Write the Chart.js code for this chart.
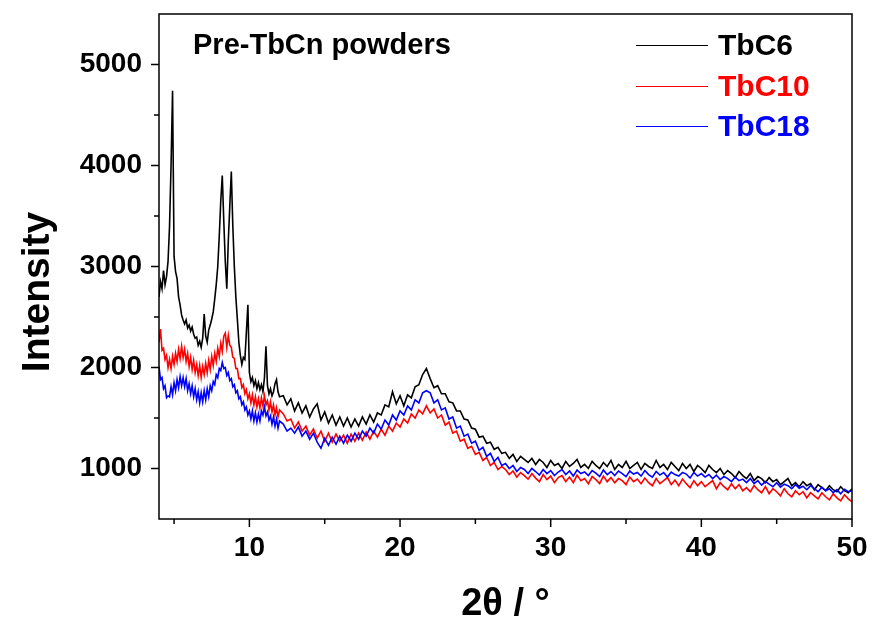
<!DOCTYPE html>
<html>
<head>
<meta charset="utf-8">
<script src="https://cdn.jsdelivr.net/npm/chart.js@4.4.1/dist/chart.umd.min.js"></script>
<style>
  html, body { margin: 0; padding: 0; background: #fff; }
  #wrap { width: 874px; height: 622px; }
</style>
</head>
<body>
<div id="wrap"><canvas id="mycanvas" width="874" height="622"></canvas></div>
<script>
// 2theta grid (deg)
const twoTheta = [
  4,4.1,4.2,4.3,4.4,4.5,4.6,4.7,4.8,4.9,
  5,5.1,5.2,5.3,5.4,5.5,5.6,5.7,5.8,5.9,
  6,6.1,6.2,6.3,6.4,6.5,6.6,6.7,6.8,6.9,
  7,7.1,7.2,7.3,7.4,7.5,7.6,7.7,7.8,7.9,
  8,8.1,8.2,8.3,8.4,8.5,8.6,8.7,8.8,8.9,
  9,9.1,9.2,9.3,9.4,9.5,9.6,9.7,9.8,9.9,
  10,10.1,10.2,10.3,10.4,10.5,10.6,10.7,10.8,10.9,
  11,11.1,11.2,11.3,11.4,11.5,11.6,11.7,11.8,11.9,
  12,
  12.25,12.5,12.75,
  13,13.25,13.5,13.75,14,14.25,14.5,14.75,
  15,15.25,15.5,15.75,16,16.25,16.5,16.75,
  17,17.25,17.5,17.75,18,18.25,18.5,18.75,
  19,19.25,19.5,19.75,20,20.25,20.5,20.75,
  21,21.25,21.5,21.75,22,22.25,22.5,22.75,
  23,23.25,23.5,23.75,24,24.25,24.5,24.75,
  25,25.25,25.5,25.75,26,26.25,26.5,26.75,
  27,27.25,27.5,27.75,28,28.25,28.5,28.75,
  29,29.25,29.5,29.75,30,30.25,30.5,30.75,
  31,31.25,31.5,31.75,32,32.25,32.5,32.75,
  33,33.25,33.5,33.75,34,34.25,34.5,34.75,
  35,35.25,35.5,35.75,36,36.25,36.5,36.75,
  37,37.25,37.5,37.75,38,38.25,38.5,38.75,
  39,39.25,39.5,39.75,40,40.25,40.5,40.75,
  41,41.25,41.5,41.75,42,42.25,42.5,42.75,
  43,43.25,43.5,43.75,44,44.25,44.5,44.75,
  45,45.25,45.5,45.75,46,46.25,46.5,46.75,
  47,47.25,47.5,47.75,48,48.25,48.5,48.75,
  49,49.25,49.5,49.75,50
];

const tbc6 = [
  2700,2850,2780,2960,2820,2900,3050,3400,4000,4740,
  3100,2950,2880,2700,2620,2520,2470,2430,2470,2390,
  2420,2360,2400,2330,2290,2300,2220,2260,2200,2290,
  2530,2310,2250,2370,2420,2480,2550,2680,2820,3000,
  3300,3650,3900,3450,3050,2780,3250,3600,3940,3400,
  3000,2700,2480,2250,2120,2030,2100,2080,2350,2620,
  1950,1860,1900,1820,1870,1790,1850,1780,1830,1760,
  1900,2210,1820,1740,1790,1720,1760,1840,1880,1760,
  1710,
  1720,1630,1690,
  1570,1650,1550,1620,1510,1590,1640,1480,
  1560,1450,1530,1430,1510,1420,1500,1410,
  1490,1420,1510,1440,1530,1460,1550,1530,
  1630,1610,1760,1640,1720,1620,1730,1700,
  1810,1830,1930,1990,1890,1800,1820,1740,
  1740,1660,1650,1570,1570,1490,1480,1400,
  1390,1310,1320,1250,1260,1190,1210,1150,
  1160,1100,1140,1070,1120,1090,1060,1100,
  1040,1090,1060,1010,1080,1030,1050,1000,
  1070,1020,1050,1090,1010,1040,1000,1070,
  1030,1000,1060,1020,1080,990,1040,1010,
  1070,1000,1030,1060,990,1050,1020,1000,
  1080,1010,1040,990,1060,1020,980,1050,
  1000,1040,970,1030,1000,960,1030,990,
  960,1000,940,980,950,910,970,930,
  900,950,880,920,900,860,910,870,
  890,840,870,900,830,860,820,870,
  830,850,790,840,810,780,830,790,
  770,820,780,760,800
];

const tbc10 = [
  2250,2380,2170,2190,2080,2120,2000,2080,1990,2110,
  2030,2140,2060,2180,2090,2210,2100,2180,2060,2140,
  2010,2100,1980,2070,1950,2030,1920,2020,1900,2010,
  1930,2040,1950,2070,1980,2110,2020,2140,2060,2190,
  2110,2240,2160,2310,2340,2200,2320,2220,2200,2100,
  2090,1990,1990,1890,1890,1800,1830,1740,1780,1690,
  1740,1650,1730,1630,1710,1610,1690,1600,1700,1620,
  1720,1630,1670,1580,1660,1560,1630,1530,1600,1510,
  1580,
  1540,1470,1490,
  1400,1460,1370,1420,1330,1390,1300,1370,
  1270,1350,1260,1340,1270,1330,1250,1340,
  1270,1350,1280,1360,1290,1370,1310,1390,
  1330,1420,1370,1450,1410,1490,1450,1540,
  1500,1580,1540,1620,1550,1590,1500,1530,
  1430,1460,1350,1370,1270,1290,1200,1220,
  1140,1160,1080,1110,1030,1060,990,1020,
  990,940,975,915,960,930,895,950,
  905,870,940,890,925,860,910,930,
  870,915,860,935,880,900,850,920,
  890,850,925,870,910,860,900,880,
  840,915,870,895,850,905,860,830,
  900,850,880,910,840,885,830,895,
  850,810,880,830,870,820,850,880,
  800,860,820,790,850,800,840,780,
  810,770,830,790,760,820,750,800,
  770,730,800,750,720,780,740,770,
  710,760,730,700,760,720,690,750,
  710,680,740,700,670
];

const tbc18 = [
  2010,1880,1900,1790,1820,1700,1720,1710,1810,1730,
  1850,1770,1880,1800,1910,1820,1900,1810,1890,1770,
  1840,1740,1820,1710,1790,1680,1760,1650,1750,1660,
  1770,1680,1790,1710,1820,1770,1860,1830,1930,1900,
  1990,1970,2050,1990,2000,1920,1950,1870,1890,1810,
  1830,1750,1770,1690,1710,1630,1660,1580,1610,1530,
  1570,1490,1570,1470,1550,1460,1540,1470,1570,1530,
  1610,1520,1560,1480,1520,1440,1510,1420,1490,1400,
  1470,
  1440,1370,1400,
  1350,1410,1320,1370,1290,1350,1260,1200,
  1300,1230,1310,1240,1320,1250,1330,1270,
  1350,1290,1370,1320,1400,1350,1440,1390,
  1480,1430,1530,1480,1570,1530,1620,1580,
  1680,1650,1750,1770,1750,1650,1680,1580,
  1600,1490,1510,1400,1420,1320,1340,1250,
  1270,1180,1210,1120,1150,1070,1110,1030,
  1050,1000,1030,970,1010,990,950,1000,
  970,935,990,950,980,930,965,990,
  940,975,925,985,950,965,930,980,
  955,920,985,940,970,930,975,950,
  920,975,945,960,925,980,940,915,
  970,935,960,915,965,940,925,960,
  945,905,960,925,950,915,940,900,
  935,890,920,900,870,915,880,895,
  860,900,850,880,835,870,845,820,
  860,815,845,830,800,840,805,825,
  790,830,800,770,815,780,800,760,
  790,750,795,770,780
];

const seriesNames = ['TbC6', 'TbC10', 'TbC18'];
const seriesColors = ['#000000', '#ff0000', '#0000ff'];
const xTicks = [10, 20, 30, 40, 50];
const xMinorTicks = [5, 15, 25, 35, 45];
const yTicks = [1000, 2000, 3000, 4000, 5000];
const yMinorTicks = [1500, 2500, 3500, 4500];
const panelLabel = 'Pre-TbCn powders';

function pairs(ys) {
  return twoTheta.map(function (t, i) { return { x: t, y: ys[i] }; });
}

const boldFont = "'Liberation Sans', Arial, sans-serif";

function noPad(s) {
  s.paddingLeft = 0; s.paddingRight = 0; s.paddingTop = 0; s.paddingBottom = 0;
}

// box, tick marks, axis titles, label and legend drawn by hand
const decor = {
  id: 'decor',
  afterDraw(chart) {
    const ctx = chart.ctx;
    const a = chart.chartArea;
    const xs = chart.scales.x, ys = chart.scales.y;
    ctx.save();
    ctx.strokeStyle = '#000';
    ctx.lineWidth = 1.5;
    ctx.strokeRect(a.left, a.top, a.right - a.left, a.bottom - a.top);

    ctx.beginPath();
    xTicks.forEach(function (v) { const p = xs.getPixelForValue(v); ctx.moveTo(p, a.bottom); ctx.lineTo(p, a.bottom + 8); });
    xMinorTicks.forEach(function (v) { const p = xs.getPixelForValue(v); ctx.moveTo(p, a.bottom); ctx.lineTo(p, a.bottom + 5); });
    yTicks.forEach(function (v) { const p = ys.getPixelForValue(v); ctx.moveTo(a.left, p); ctx.lineTo(a.left - 8, p); });
    yMinorTicks.forEach(function (v) { const p = ys.getPixelForValue(v); ctx.moveTo(a.left, p); ctx.lineTo(a.left - 5, p); });
    ctx.stroke();

    ctx.fillStyle = '#000';
    ctx.font = 'bold 38px ' + boldFont;
    ctx.textAlign = 'center';
    ctx.textBaseline = 'alphabetic';
    ctx.fillText('2\u03B8 / \u00B0', (a.left + a.right) / 2, 615);

    ctx.save();
    ctx.translate(49, 292);
    ctx.rotate(-Math.PI / 2);
    ctx.font = 'bold 39px ' + boldFont;
    ctx.fillText('Intensity', 0, 0);
    ctx.restore();

    ctx.textAlign = 'left';
    ctx.font = 'bold 29px ' + boldFont;
    ctx.fillText(panelLabel, 193, 54);

    ctx.font = 'bold 30px ' + boldFont;
    ctx.textBaseline = 'middle';
    seriesNames.forEach(function (n, i) {
      const y = Math.round(45 + i * 40.5) + 0.5;
      ctx.strokeStyle = seriesColors[i];
      ctx.lineWidth = 1;
      ctx.beginPath();
      ctx.moveTo(636, y);
      ctx.lineTo(708, y);
      ctx.stroke();
      ctx.fillStyle = seriesColors[i];
      ctx.fillText(n, 718, y + 1);
    });
    ctx.restore();
  }
};

const ctx = document.getElementById('mycanvas');
const chart = new Chart(ctx, {
  type: 'line',
  data: {
    datasets: [
      { label: seriesNames[0], data: pairs(tbc6), borderColor: seriesColors[0], order: 2 },
      { label: seriesNames[1], data: pairs(tbc10), borderColor: seriesColors[1], order: 1 },
      { label: seriesNames[2], data: pairs(tbc18), borderColor: seriesColors[2], order: 0 }
    ]
  },
  options: {
    responsive: false,
    animation: false,
    layout: { padding: { top: 14, right: 22, left: 0, bottom: 0 } },
    elements: {
      point: { radius: 0 },
      line: { borderWidth: 1.6, tension: 0 }
    },
    plugins: { legend: { display: false }, tooltip: { enabled: false } },
    scales: {
      x: {
        type: 'linear', min: 4, max: 50,
        afterBuildTicks: function (s) { s.ticks = xTicks.map(function (v) { return { value: v }; }); },
        afterFit: function (s) { s.height = 103; noPad(s); },
        grid: { drawOnChartArea: false, drawTicks: false },
        border: { display: false },
        ticks: { color: '#000', padding: 12, maxRotation: 0, font: { family: boldFont, size: 28, weight: 'bold' } }
      },
      y: {
        type: 'linear', min: 500, max: 5500,
        afterBuildTicks: function (s) { s.ticks = yTicks.map(function (v) { return { value: v }; }); },
        afterFit: function (s) { s.width = 159; noPad(s); },
        grid: { drawOnChartArea: false, drawTicks: false },
        border: { display: false },
        ticks: {
          color: '#000', padding: 17,
          font: { family: boldFont, size: 28, weight: 'bold' },
          callback: function (v) { return String(v); }
        }
      }
    }
  },
  plugins: [decor]
});
</script>
</body>
</html>
